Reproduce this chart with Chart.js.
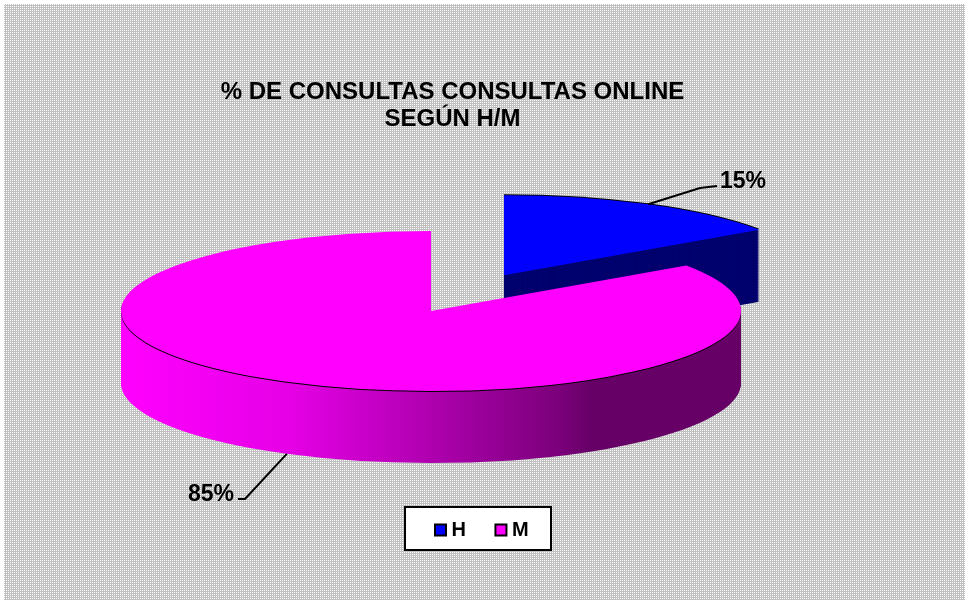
<!DOCTYPE html>
<html lang="es">
<head>
<meta charset="utf-8">
<title>% de consultas online</title>
<script src="https://cdn.jsdelivr.net/npm/chart.js@4/dist/chart.umd.min.js"></script>
<style>
  html, body { margin: 0; padding: 0; background: #fff; }
  canvas { display: block; }
</style>
</head>
<body>
<canvas id="pie" width="969" height="604"></canvas>
<script>
  const categories = ["H", "M"];
  // slice sizes, the labels round them to 15% and 85%
  const percentages = [15.4, 84.6];
  const titleLines = ["% DE CONSULTAS CONSULTAS ONLINE", "SEGÚN H/M"];

  const topColors = ["#0000ff", "#ff00ff"];
  const FONT = "'Liberation Sans', Arial, sans-serif";

  // the flat pie is squashed onto this ellipse and extruded downwards
  const CX = 431, CY = 311, RX = 310, RY = 80, DEPTH = 72;
  const EXPLODE = [157, 0];
  const LEGEND_BOX = { left: 405, top: 507, right: 551, bottom: 550 };

  // label text spot and the bend of its leader line
  const labelSpots = [
    { x: 743, y: 182, bend: [[700, 188], [717, 186]] },
    { x: 211, y: 495, bend: [[245, 499], [238, 499]] }
  ];

  const dotted = () => {
    const tile = document.createElement("canvas");
    tile.width = 2;
    tile.height = 2;
    const t = tile.getContext("2d");
    t.fillStyle = "#c0c0c0";
    t.fillRect(0, 0, 2, 2);
    t.fillStyle = "#ffffff";
    t.fillRect(0, 0, 1, 1);
    return tile;
  };

  const explodedOrigin = (arc, index) => {
    const mid = (arc.startAngle + arc.endAngle) / 2;
    return {
      x: CX + Math.cos(mid) * EXPLODE[index],
      y: CY + Math.sin(mid) * EXPLODE[index] * (RY / RX)
    };
  };

  const paint = (ctx, arc, index, drop, color) => {
    const origin = explodedOrigin(arc, index);
    const saved = arc.options;
    arc.options = { ...saved, backgroundColor: color };
    ctx.save();
    ctx.translate(origin.x, origin.y + drop);
    ctx.scale(RX / arc.outerRadius, RY / arc.outerRadius);
    ctx.translate(-arc.x, -arc.y);
    arc.draw(ctx);
    ctx.restore();
    arc.options = saved;
  };

  const sideColor = (ctx, arc, index) => {
    if (index === 0) return "#00006e";
    const g = ctx.createLinearGradient(arc.x - arc.outerRadius, 0, arc.x + arc.outerRadius, 0);
    g.addColorStop(0, "#ff00ff");
    g.addColorStop(0.27, "#e600e6");
    g.addColorStop(0.43, "#c000c0");
    g.addColorStop(0.71, "#7a007a");
    g.addColorStop(0.76, "#660066");
    g.addColorStop(1, "#660066");
    return g;
  };

  const pie3d = {
    id: "pie3d",
    beforeDraw(chart) {
      const { ctx } = chart;
      ctx.save();
      ctx.fillStyle = "#ffffff";
      ctx.fillRect(0, 0, chart.width, chart.height);
      ctx.fillStyle = ctx.createPattern(dotted(), "repeat");
      ctx.fillRect(4, 4, 961, 596);
      ctx.fillStyle = "#ffffff";
      ctx.strokeStyle = "#000000";
      ctx.lineWidth = 2;
      ctx.beginPath();
      ctx.rect(LEGEND_BOX.left, LEGEND_BOX.top, LEGEND_BOX.right - LEGEND_BOX.left, LEGEND_BOX.bottom - LEGEND_BOX.top);
      ctx.fill();
      ctx.stroke();
      ctx.restore();
    },
    afterLayout(chart) {
      // the legend sits in its own framed box, not along the chart edge
      const legend = chart.legend;
      const padding = legend.options.labels.padding;
      legend.left = 439.5 - padding;
      legend.right = 900;
      legend.top = 520 - padding;
      legend.bottom = LEGEND_BOX.bottom;
    },
    beforeDatasetsDraw(chart) {
      const { ctx } = chart;
      const arcs = chart.getDatasetMeta(0).data;
      arcs.forEach((arc, index) => {
        const side = sideColor(ctx, arc, index);
        for (let drop = DEPTH; drop >= 1; drop -= 1) paint(ctx, arc, index, drop, side);
        paint(ctx, arc, index, index === 0 ? -1 : 1, "#000000");
        paint(ctx, arc, index, 0, arc.options.backgroundColor);
      });
      return false;
    },
    afterDraw(chart) {
      const { ctx } = chart;
      const arcs = chart.getDatasetMeta(0).data;
      ctx.save();
      ctx.strokeStyle = "#000000";
      ctx.lineWidth = 2;
      ctx.fillStyle = "#000000";
      ctx.font = `bold 23px ${FONT}`;
      ctx.textAlign = "center";
      ctx.textBaseline = "middle";
      arcs.forEach((arc, index) => {
        const mid = (arc.startAngle + arc.endAngle) / 2;
        const origin = explodedOrigin(arc, index);
        const lower = Math.sin(mid) > 0;
        const spot = labelSpots[index];
        ctx.beginPath();
        ctx.moveTo(origin.x + Math.cos(mid) * RX, origin.y + Math.sin(mid) * RY + (lower ? DEPTH : 0));
        spot.bend.forEach(([x, y]) => ctx.lineTo(x, y));
        ctx.stroke();
        ctx.fillText(`${Math.round(percentages[index])}%`, spot.x, spot.y);
      });
      ctx.restore();
    }
  };

  new Chart(document.getElementById("pie"), {
    type: "pie",
    data: {
      labels: categories,
      datasets: [{ data: percentages, backgroundColor: topColors, borderWidth: 0 }]
    },
    plugins: [pie3d],
    options: {
      responsive: false,
      animation: false,
      layout: { padding: { right: 64 } },
      plugins: {
        tooltip: { enabled: false },
        title: {
          display: true,
          text: titleLines,
          color: "#000000",
          font: { family: FONT, size: 24, weight: "bold", lineHeight: 1.125 },
          padding: { top: 79, bottom: 10 }
        },
        legend: {
          position: "bottom",
          align: "start",
          labels: {
            boxWidth: 2,
            boxHeight: 11,
            usePointStyle: true,
            pointStyle: "rect",
            padding: 34,
            color: "#000000",
            font: { family: FONT, size: 20, weight: "bold" },
            generateLabels: () => categories.map((text, index) => ({
              text,
              index,
              fillStyle: topColors[index],
              strokeStyle: "#000000",
              lineWidth: 2,
              pointStyle: "rect",
              fontColor: "#000000"
            }))
          }
        }
      }
    }
  });
</script>
</body>
</html>
